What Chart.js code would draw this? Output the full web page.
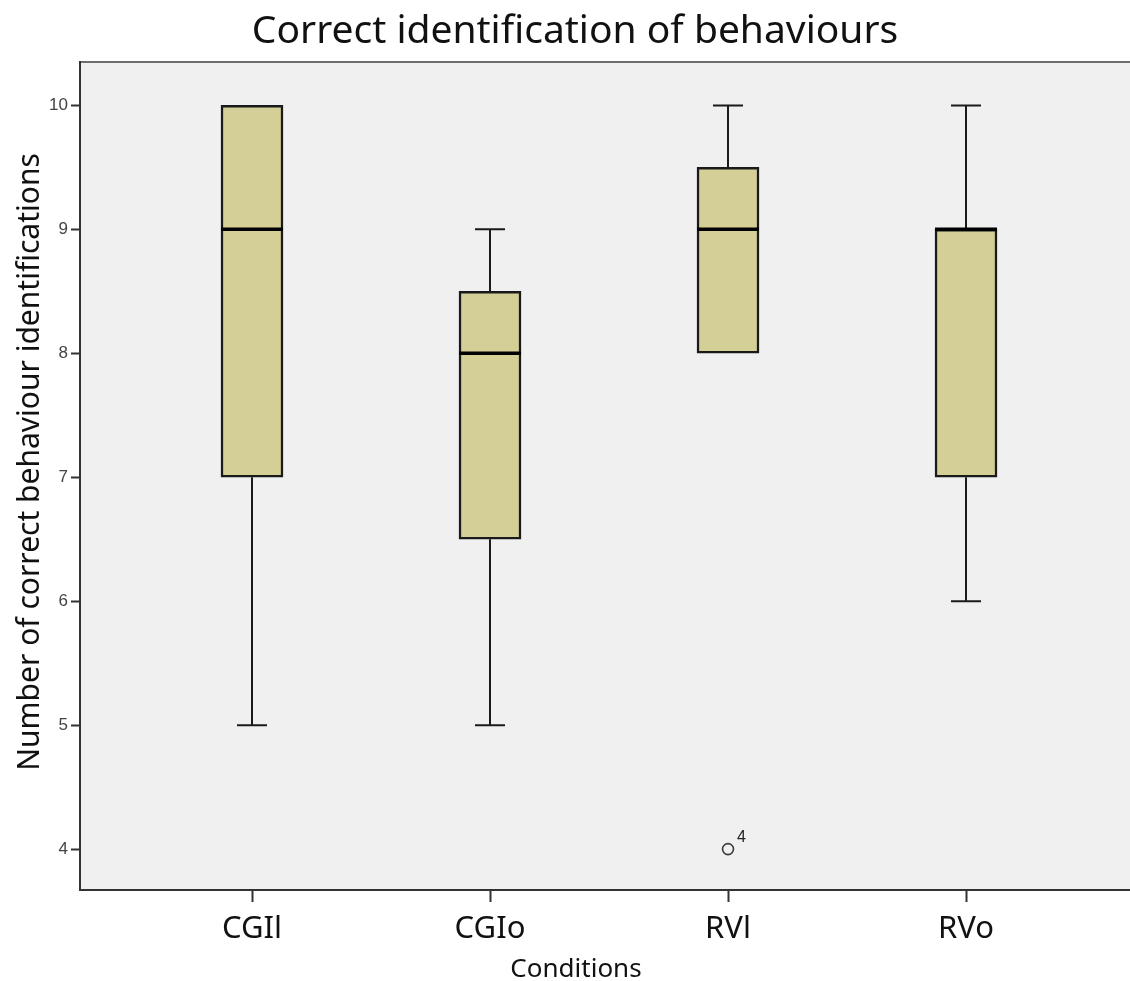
<!DOCTYPE html>
<html>
<head>
<meta charset="utf-8">
<script src="https://cdn.jsdelivr.net/npm/chart.js@4.4.1/dist/chart.umd.min.js"></script>
<style>
  html, body { margin: 0; padding: 0; background: #ffffff; }
  #wrap { width: 1130px; height: 981px; }
</style>
</head>
<body>
<div id="wrap"><canvas id="chart" width="1130" height="981"></canvas></div>
<script>
// Box-plot summary per condition
const conditions   = ['CGIl', 'CGIo', 'RVl', 'RVo'];
const minValues    = [5, 5, 8, 6];
const q1Values     = [7, 6.5, 8, 7];
const medianValues = [9, 8, 9, 9];
const q3Values     = [10, 8.5, 9.5, 9];
const maxValues    = [10, 9, 10, 10];

// Outliers: category index, value, case label
const outlierCategory = [2];
const outlierValues   = [4];
const outlierLabels   = ['4'];

const yTicks = [4, 5, 6, 7, 8, 9, 10];

const TITLE = 'Correct identification of behaviours';
const Y_TITLE = 'Number of correct behaviour identifications';
const X_TITLE = 'Conditions';

const HUMANIST = '"Noto Sans", "Open Sans", sans-serif';
const INK = '#1a1a1a';

const boxPlotPlugin = {
  id: 'boxPlotExtras',
  beforeDraw(chart) {
    const { ctx, chartArea: a } = chart;
    ctx.save();
    ctx.fillStyle = '#f0f0f0';
    ctx.fillRect(a.left, a.top, a.right - a.left, a.bottom - a.top);
    // top frame line
    ctx.strokeStyle = '#6e6e6e';
    ctx.lineWidth = 2;
    ctx.beginPath();
    ctx.moveTo(a.left, a.top);
    ctx.lineTo(a.right, a.top);
    ctx.stroke();
    ctx.restore();
  },
  afterDatasetsDraw(chart) {
    const { ctx } = chart;
    const xs = chart.scales.x, ys = chart.scales.y;
    const capHalf = 15, boxHalf = 31;
    ctx.save();
    ctx.strokeStyle = INK;
    ctx.lineCap = 'butt';
    conditions.forEach((c, i) => {
      const cx = Math.round(xs.getPixelForValue(i));
      const pMin = ys.getPixelForValue(minValues[i]);
      const pQ1 = ys.getPixelForValue(q1Values[i]);
      const pQ3 = ys.getPixelForValue(q3Values[i]);
      const pMax = ys.getPixelForValue(maxValues[i]);
      const pMed = ys.getPixelForValue(medianValues[i]);
      ctx.lineWidth = 2;
      // upper whisker
      if (maxValues[i] > q3Values[i]) {
        ctx.beginPath();
        ctx.moveTo(cx, pQ3); ctx.lineTo(cx, pMax);
        ctx.moveTo(cx - capHalf, pMax); ctx.lineTo(cx + capHalf, pMax);
        ctx.stroke();
      }
      // lower whisker
      if (minValues[i] < q1Values[i]) {
        ctx.beginPath();
        ctx.moveTo(cx, pQ1); ctx.lineTo(cx, pMin);
        ctx.moveTo(cx - capHalf, pMin); ctx.lineTo(cx + capHalf, pMin);
        ctx.stroke();
      }
      // median
      ctx.lineWidth = 3.5;
      ctx.strokeStyle = '#000';
      ctx.beginPath();
      ctx.moveTo(cx - boxHalf, pMed); ctx.lineTo(cx + boxHalf, pMed);
      ctx.stroke();
      ctx.strokeStyle = INK;
    });
    // outlier case labels
    ctx.fillStyle = '#222';
    ctx.font = '16px "Liberation Sans", Arial, sans-serif';
    ctx.textAlign = 'left';
    ctx.textBaseline = 'alphabetic';
    outlierCategory.forEach((ci, k) => {
      const px = xs.getPixelForValue(ci);
      const py = ys.getPixelForValue(outlierValues[k]);
      ctx.fillText(outlierLabels[k], px + 9, py - 7);
    });
    ctx.restore();
  },
  afterDraw(chart) {
    const { ctx } = chart;
    ctx.save();
    ctx.fillStyle = '#111';
    ctx.textAlign = 'center';
    ctx.textBaseline = 'alphabetic';
    ctx.font = '39px ' + HUMANIST;
    ctx.fillText(TITLE, 575, 43);
    ctx.font = '26px ' + HUMANIST;
    ctx.fillText(X_TITLE, 576, 977);
    ctx.translate(30, 462);
    ctx.rotate(-Math.PI / 2);
    ctx.textBaseline = 'middle';
    ctx.font = '30px ' + HUMANIST;
    ctx.fillText(Y_TITLE, 0, 0);
    ctx.restore();
  }
};

new Chart(document.getElementById('chart'), {
  type: 'bar',
  data: {
    datasets: [
      {
        type: 'bar',
        data: conditions.map((c, i) => ({ x: i, y: [q1Values[i], q3Values[i]] })),
        backgroundColor: '#d4cf97',
        borderColor: INK,
        borderWidth: 2.5,
        borderSkipped: false,
        barThickness: 62
      },
      {
        type: 'scatter',
        data: outlierCategory.map((ci, k) => ({ x: ci, y: outlierValues[k] })),
        pointRadius: 5.5,
        pointHoverRadius: 5.5,
        pointBorderWidth: 1.6,
        pointBorderColor: '#3a3a3a',
        pointBackgroundColor: 'rgba(0,0,0,0)'
      }
    ]
  },
  options: {
    responsive: false,
    animation: false,
    devicePixelRatio: 1,
    layout: { autoPadding: false, padding: { top: 62, left: 0, right: 0, bottom: 0 } },
    plugins: { legend: { display: false }, tooltip: { enabled: false }, title: { display: false } },
    scales: {
      x: {
        type: 'linear',
        offset: false,
        min: -0.7227,
        max: 3.689,
        afterBuildTicks: s => { s.ticks = conditions.map((c, i) => ({ value: i })); },
        afterFit: s => { s.height = 91; },
        ticks: {
          callback: v => conditions[v],
          font: { family: HUMANIST, size: 31 },
          color: '#111',
          padding: 9,
          maxRotation: 0,
          autoSkip: false
        },
        grid: { offset: false, drawOnChartArea: false, drawTicks: true, tickLength: 12, tickWidth: 2, tickColor: '#333' },
        border: { display: true, color: '#333', width: 2 }
      },
      y: {
        type: 'linear',
        min: 3.67,
        max: 10.35,
        afterBuildTicks: s => { s.ticks = yTicks.map(v => ({ value: v })); },
        afterFit: s => { s.width = 80; },
        ticks: {
          font: { family: '"Liberation Sans", Arial, sans-serif', size: 17 },
          color: '#444',
          padding: 3
        },
        grid: { drawOnChartArea: false, drawTicks: true, tickLength: 9, tickWidth: 2, tickColor: '#333' },
        border: { display: true, color: '#333', width: 2 }
      }
    }
  },
  plugins: [boxPlotPlugin]
});
</script>
</body>
</html>
